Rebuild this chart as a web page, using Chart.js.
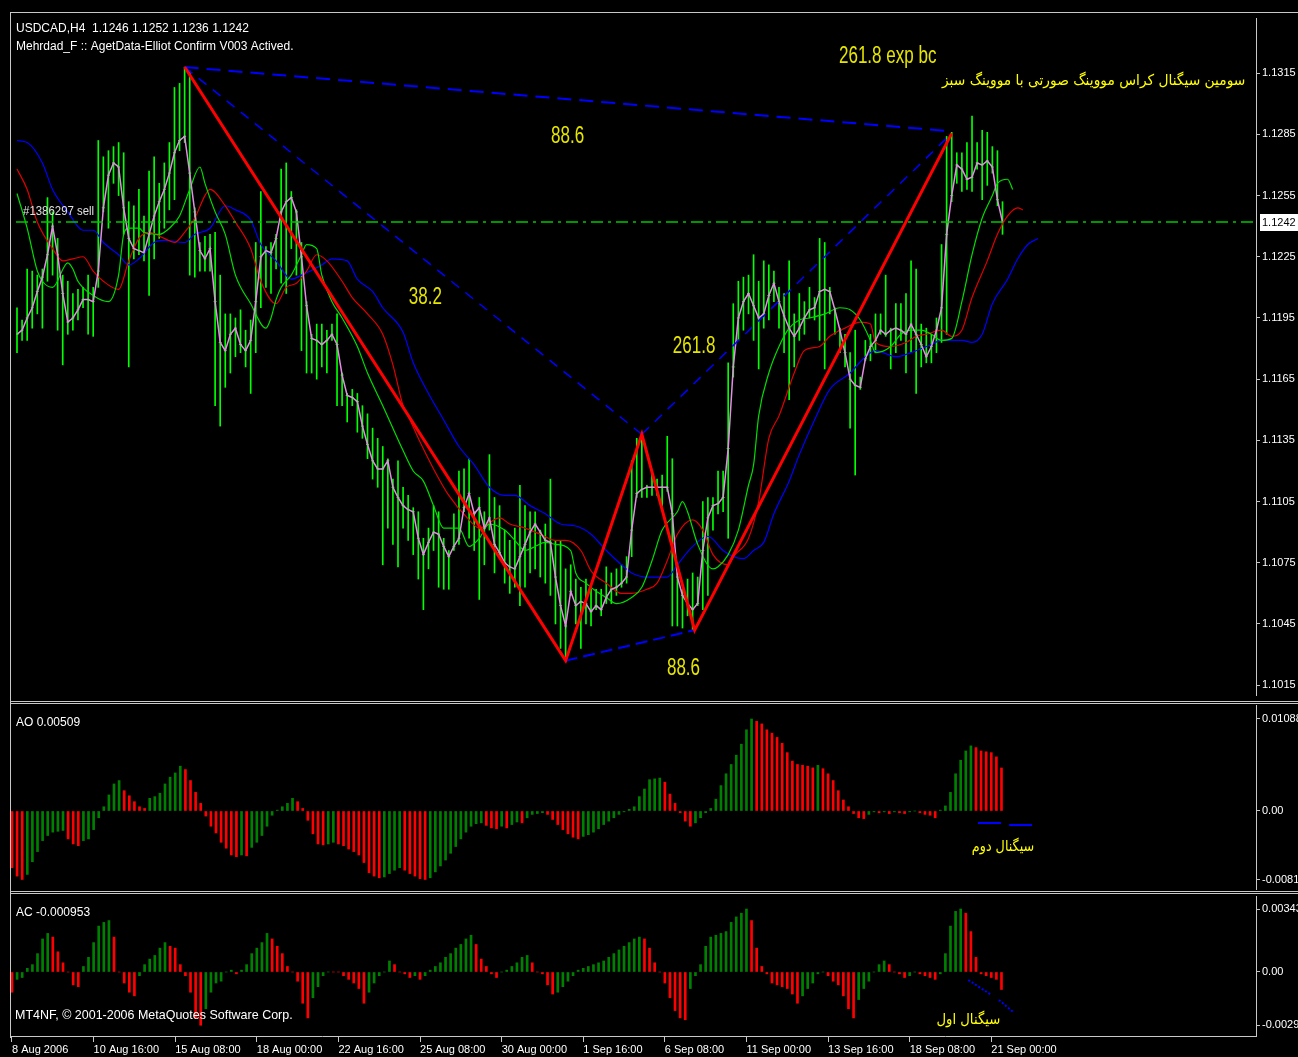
<!DOCTYPE html>
<html>
<head>
<meta charset="utf-8">
<title>USDCAD,H4</title>
<script src="https://cdn.jsdelivr.net/npm/chart.js@4.4.1/dist/chart.umd.min.js"></script>
<style>
  html,body{margin:0;padding:0;background:#000;}
  body{position:relative;width:1298px;height:1057px;overflow:hidden;}
  canvas{position:absolute;left:11px;}
  .ln{position:absolute;background:#c8c8c8;}
</style>
</head>
<body>
<div class="ln" style="left:10px;top:12px;width:1288px;height:1px"></div>
<div class="ln" style="left:10px;top:12px;width:1px;height:1026px"></div>
<div class="ln" style="left:10px;top:701px;width:1288px;height:1px"></div>
<div class="ln" style="left:10px;top:703px;width:1288px;height:1px"></div>
<div class="ln" style="left:10px;top:891px;width:1288px;height:1px"></div>
<div class="ln" style="left:10px;top:893px;width:1288px;height:1px"></div>
<canvas id="priceChart" width="1287" height="687" style="top:13px"></canvas>
<canvas id="aoChart" width="1287" height="185" style="top:705px"></canvas>
<canvas id="acChart" width="1287" height="161" style="top:896px"></canvas>
<script>
// H4 bars, one per index (0 = 8 Aug 2006)
const timeLabels = ['8 Aug 2006','10 Aug 16:00','15 Aug 08:00','18 Aug 00:00','22 Aug 16:00','25 Aug 08:00',
  '30 Aug 00:00','1 Sep 16:00','6 Sep 08:00','11 Sep 00:00','13 Sep 16:00','18 Sep 08:00','21 Sep 00:00'];
const priceTicks = [1.1315,1.1285,1.1255,1.1225,1.1195,1.1165,1.1135,1.1105,1.1075,1.1045,1.1015];
const aoTicks = [0.01088, 0, -0.0081];
const aoTickText = ['0.01088','0.00','-0.0081'];
const acTicks = [0.00343, 0, -0.0029];
const acTickText = ['0.00343','0.00','-0.0029'];

const highs = [
1.1200,1.1194,1.1219,1.1218,1.1216,1.1219,1.1254,1.1247,1.1234,1.1216,
1.1213,1.1207,1.1209,1.1210,1.1216,1.1210,1.1282,1.1274,1.1277,1.1279,
1.1281,1.1276,1.1252,1.1250,1.1258,1.1245,1.1267,1.1274,1.1261,1.1271,
1.1281,1.1308,1.1310,1.1318,1.1316,1.1249,1.1232,1.1235,1.1236,1.1237,
1.1216,1.1197,1.1197,1.1195,1.1199,1.1189,1.1194,1.1232,1.1257,1.1230,
1.1232,1.1236,1.1268,1.1271,1.1257,1.1248,1.1232,1.1203,1.1187,1.1192,
1.1192,1.1189,1.1192,1.1197,1.1168,1.1158,1.1160,1.1158,1.1152,1.1148,
1.1141,1.1136,1.1132,1.1126,1.1116,1.1125,1.1112,1.1108,1.1102,1.1100,
1.1087,1.1092,1.1103,1.1100,1.1087,1.1081,1.1099,1.1120,1.1121,1.1126,
1.1100,1.1107,1.1100,1.1128,1.1107,1.1103,1.1091,1.1086,1.1092,1.1113,
1.1103,1.1100,1.1100,1.1091,1.1094,1.1116,1.1086,1.1086,1.1072,1.1074,
1.1067,1.1063,1.1067,1.1062,1.1062,1.1062,1.1073,1.1070,1.1072,1.1074,
1.1078,1.1125,1.1136,1.1138,1.1113,1.1120,1.1116,1.1118,1.1137,1.1126,
1.1070,1.1062,1.1067,1.1070,1.1068,1.1105,1.1107,1.1107,1.1120,1.1120,
1.1173,1.1202,1.1213,1.1215,1.1216,1.1226,1.1213,1.1223,1.1221,1.1218,
1.1210,1.1207,1.1223,1.1197,1.1207,1.1203,1.1210,1.1205,1.1234,1.1232,
1.1210,1.1200,1.1190,1.1187,1.1178,1.1189,1.1166,1.1184,1.1187,1.1197,
1.1197,1.1216,1.1190,1.1202,1.1202,1.1207,1.1223,1.1219,1.1192,1.1190,
1.1187,1.1195,1.1231,1.1284,1.1286,1.1276,1.1276,1.1281,1.1294,1.1281,
1.1287,1.1286,1.1279,1.1277,1.1252];

const lows = [
1.1178,1.1184,1.1184,1.1190,1.1197,1.1190,1.1213,1.1216,1.1189,1.1172,
1.1187,1.1189,1.1194,1.1200,1.1187,1.1186,1.1210,1.1247,1.1239,1.1261,
1.1255,1.1236,1.1171,1.1224,1.1226,1.1223,1.1206,1.1224,1.1234,1.1239,
1.1248,1.1253,1.1277,1.1281,1.1216,1.1215,1.1218,1.1218,1.1218,1.1152,
1.1142,1.1161,1.1168,1.1176,1.1178,1.1171,1.1158,1.1178,1.1200,1.1210,
1.1207,1.1219,1.1212,1.1207,1.1229,1.1216,1.1179,1.1168,1.1168,1.1165,
1.1171,1.1168,1.1184,1.1152,1.1152,1.1144,1.1152,1.1139,1.1136,1.1126,
1.1116,1.1112,1.1074,1.1092,1.1084,1.1073,1.1092,1.1086,1.1079,1.1067,
1.1052,1.1072,1.1081,1.1063,1.1062,1.1062,1.1081,1.1084,1.1100,1.1087,
1.1081,1.1057,1.1074,1.1091,1.1070,1.1078,1.1065,1.1060,1.1063,1.1054,
1.1063,1.1070,1.1072,1.1068,1.1065,1.1059,1.1045,1.1033,1.1027,1.1059,
1.1045,1.1033,1.1045,1.1044,1.1052,1.1049,1.1055,1.1055,1.1059,1.1063,
1.1065,1.1078,1.1107,1.1107,1.1107,1.1108,1.1108,1.1103,1.1110,1.1044,
1.1044,1.1043,1.1049,1.1042,1.1054,1.1052,1.1059,1.1091,1.1099,1.1100,
1.1087,1.1166,1.1184,1.1189,1.1197,1.1184,1.1170,1.1190,1.1194,1.1203,
1.1190,1.1178,1.1155,1.1171,1.1184,1.1187,1.1195,1.1194,1.1184,1.1170,
1.1197,1.1187,1.1178,1.1171,1.1141,1.1118,1.1160,1.1174,1.1174,1.1178,
1.1187,1.1186,1.1170,1.1178,1.1184,1.1168,1.1178,1.1158,1.1171,1.1173,
1.1173,1.1178,1.1183,1.1187,1.1252,1.1261,1.1257,1.1258,1.1257,1.1268,
1.1253,1.1260,1.1266,1.1250,1.1236];

const closes = [
1.1187,1.1189,1.1195,1.1200,1.1208,1.1215,1.1226,1.1240,1.1226,1.1207,
1.1193,1.1195,1.1199,1.1204,1.1204,1.1203,1.1218,1.1249,1.1265,1.1271,
1.1269,1.1249,1.1234,1.1229,1.1228,1.1227,1.1236,1.1245,1.1252,1.1258,
1.1266,1.1276,1.1282,1.1284,1.1266,1.1247,1.1228,1.1224,1.1229,1.1203,
1.1183,1.1179,1.1187,1.1190,1.1182,1.1179,1.1184,1.1203,1.1225,1.1228,
1.1227,1.1234,1.1247,1.1252,1.1254,1.1247,1.1225,1.1201,1.1185,1.1184,
1.1182,1.1184,1.1187,1.1182,1.1167,1.1157,1.1156,1.1154,1.1142,1.1133,
1.1125,1.1121,1.1121,1.1125,1.1112,1.1107,1.1103,1.1101,1.1100,1.1087,
1.1079,1.1085,1.1090,1.1089,1.1083,1.1078,1.1083,1.1087,1.1102,1.1109,
1.1099,1.1102,1.1092,1.1097,1.1084,1.1080,1.1075,1.1073,1.1072,1.1078,
1.1084,1.1090,1.1094,1.1090,1.1086,1.1085,1.1068,1.1054,1.1044,1.1061,
1.1054,1.1056,1.1055,1.1051,1.1054,1.1052,1.1058,1.1062,1.1063,1.1065,
1.1068,1.1091,1.1109,1.1111,1.1112,1.1112,1.1112,1.1112,1.1112,1.1099,
1.1068,1.1059,1.1055,1.1052,1.1055,1.1081,1.1097,1.1103,1.1104,1.1107,
1.1131,1.1171,1.1195,1.1203,1.1207,1.1201,1.1195,1.1197,1.1206,1.1212,
1.1203,1.1196,1.1190,1.1186,1.1190,1.1195,1.1199,1.1200,1.1208,1.1209,
1.1208,1.1199,1.1189,1.1178,1.1165,1.1162,1.1161,1.1175,1.1181,1.1184,
1.1189,1.1187,1.1189,1.1190,1.1189,1.1187,1.1192,1.1187,1.1182,1.1176,
1.1181,1.1189,1.1200,1.1236,1.1255,1.1270,1.1268,1.1263,1.1264,1.1271,
1.1270,1.1272,1.1269,1.1253,1.1242];

// alligator lines as [bar index, price]
const lipsLine = [[0,1.1256],[2,1.1239],[4,1.1218],[5,1.1213],[7,1.1210],[10,1.1222],[11,1.1219],[12,1.1213],
  [15,1.1206],[18,1.1203],[20,1.1216],[21,1.1236],[22,1.1239],[24,1.1239],[25,1.1237],[28,1.1236],[30,1.1239],
  [32,1.1245],[34,1.1258],[36,1.1269],[37,1.1261],[39,1.1247],[41,1.1236],[43,1.1216],[46,1.1202],[49,1.1190],
  [50,1.1195],[51,1.1204],[52,1.1210],[54,1.1216],[56,1.1226],[57,1.1231],[59,1.1229],[60,1.1216],[62,1.1203],
  [64,1.1195],[67,1.1181],[69,1.1168],[72,1.1152],[76,1.1130],[78,1.1120],[80,1.1115],[82,1.1103],[84,1.1092],
  [87,1.1092],[89,1.1083],[91,1.1087],[93,1.1094],[96,1.1091],[98,1.1086],[100,1.1081],[102,1.1083],[104,1.1085],
  [106,1.1084],[109,1.1081],[110,1.1070],[112,1.1065],[114,1.1061],[116,1.1058],[118,1.1055],[121,1.1058],
  [123,1.1063],[125,1.1076],[127,1.1091],[130,1.1100],[131,1.1105],[132,1.1100],[134,1.1084],[137,1.1072],
  [138,1.1073],[140,1.1079],[142,1.1091],[144,1.1113],[145,1.1123],[146,1.1147],[148,1.1168],[150,1.1181],
  [152,1.1190],[154,1.1194],[156,1.1195],[159,1.1197],[162,1.1200],[164,1.1199],[166,1.1194],[168,1.1184],
  [169,1.1178],[172,1.1181],[174,1.1187],[176,1.1189],[178,1.1189],[180,1.1187],[182,1.1184],[184,1.1185],
  [186,1.1203],[188,1.1226],[190,1.1244],[192,1.1255],[193,1.1261],[195,1.1263],[196,1.1258]];

const teethLine = [[0,1.1268],[2,1.1258],[4,1.1242],[7,1.1229],[9,1.1223],[11,1.1224],[13,1.1225],[15,1.1218],
  [17,1.1213],[20,1.1209],[22,1.1223],[24,1.1234],[26,1.1237],[29,1.1234],[31,1.1232],[33,1.1237],[35,1.1244],
  [37,1.1255],[38,1.1258],[41,1.1250],[43,1.1242],[46,1.1229],[48,1.1213],[51,1.1202],[53,1.1210],[55,1.1212],
  [57,1.1218],[59,1.1226],[61,1.1223],[64,1.1213],[66,1.1205],[69,1.1197],[72,1.1187],[74,1.1172],[76,1.1152],
  [77,1.1147],[79,1.1136],[82,1.1121],[85,1.1108],[89,1.1096],[91,1.1092],[95,1.1097],[97,1.1094],[100,1.1092],
  [103,1.1089],[106,1.1086],[108,1.1086],[111,1.1081],[113,1.1071],[116,1.1065],[119,1.1060],[121,1.1060],
  [124,1.1062],[126,1.1065],[128,1.1076],[130,1.1089],[133,1.1096],[135,1.1091],[137,1.1079],[140,1.1074],
  [141,1.1078],[144,1.1087],[146,1.1105],[148,1.1136],[150,1.1147],[153,1.1168],[155,1.1179],[158,1.1181],
  [160,1.1186],[163,1.1190],[166,1.1193],[168,1.1192],[169,1.1183],[172,1.1181],[175,1.1183],[177,1.1186],
  [179,1.1187],[182,1.1189],[184,1.1186],[186,1.1189],[188,1.1205],[191,1.1223],[193,1.1236],[195,1.1245],
  [197,1.1249],[198,1.1248]];

const jawLine = [[0,1.1282],[2,1.1281],[5,1.1271],[7,1.1258],[10,1.1247],[13,1.1238],[15,1.1238],[17,1.1232],
  [20,1.1226],[22,1.1221],[24,1.1224],[27,1.1232],[29,1.1233],[33,1.1232],[35,1.1236],[38,1.1239],[41,1.1250],
  [43,1.1248],[46,1.1243],[48,1.1231],[51,1.1223],[54,1.1214],[56,1.1216],[60,1.1221],[62,1.1224],[65,1.1223],
  [67,1.1214],[70,1.1208],[72,1.1200],[76,1.1188],[78,1.1173],[81,1.1158],[84,1.1145],[87,1.1132],[90,1.1123],
  [93,1.1112],[96,1.1108],[98,1.1108],[101,1.1103],[104,1.1099],[107,1.1094],[110,1.1093],[113,1.1089],
  [116,1.1081],[119,1.1074],[121,1.1070],[124,1.1068],[128,1.1068],[130,1.1074],[133,1.1083],[136,1.1088],
  [139,1.1081],[141,1.1078],[143,1.1077],[145,1.1081],[147,1.1085],[149,1.1099],[152,1.1115],[154,1.1128],
  [157,1.1145],[160,1.1160],[164,1.1168],[167,1.1176],[169,1.1179],[173,1.1176],[176,1.1178],[180,1.1182],
  [182,1.1184],[186,1.1184],[188,1.1183],[190,1.1187],[192,1.1202],[195,1.1214],[197,1.1224],[199,1.1231],
  [201,1.1234]];

// Elliott zigzag and the fibo guide lines
const zigzag = [[33,1.1318],[108,1.1027],[123,1.1138],[133.4,1.1042],[184,1.12855]];
const guideTop = [[33,1.1318],[184,1.12865]];
const guideLeft = [[33,1.1318],[123,1.1138]];
const guideRight = [[123,1.1138],[184,1.12855]];
const guideBottom = [[108,1.1027],[133.4,1.1042]];
const orderLevel = 1.1242;

const aoValues = [
-0.0067,-0.0077,-0.0081,-0.0075,-0.0060,-0.0048,-0.0035,-0.0029,-0.0025,-0.0024,
-0.0023,-0.0033,-0.0039,-0.0041,-0.0035,-0.0033,-0.0022,-0.0008,0.0005,0.0019,
0.0032,0.0036,0.0024,0.0018,0.0011,0.0005,0.0003,0.0015,0.0017,0.0021,
0.0032,0.0040,0.0045,0.0053,0.0049,0.0036,0.0022,0.0009,-0.0006,-0.0018,
-0.0026,-0.0037,-0.0044,-0.0052,-0.0054,-0.0052,-0.0053,-0.0043,-0.0037,-0.0029,
-0.0018,-0.0005,0.0001,0.0005,0.0009,0.0015,0.0011,0.0003,-0.0011,-0.0027,
-0.0039,-0.0040,-0.0039,-0.0037,-0.0039,-0.0041,-0.0045,-0.0048,-0.0052,-0.0061,
-0.0073,-0.0077,-0.0079,-0.0078,-0.0074,-0.0070,-0.0067,-0.0070,-0.0074,-0.0077,
-0.0080,-0.0081,-0.0079,-0.0072,-0.0065,-0.0058,-0.0050,-0.0042,-0.0033,-0.0025,
-0.0018,-0.0015,-0.0014,-0.0017,-0.0020,-0.0021,-0.0018,-0.0020,-0.0016,-0.0013,
-0.0014,-0.0008,-0.0004,-0.0003,-0.0002,-0.0004,-0.0010,-0.0016,-0.0022,-0.0027,
-0.0031,-0.0033,-0.0030,-0.0028,-0.0025,-0.0021,-0.0016,-0.0012,-0.0008,-0.0004,
-0.0001,0.0002,0.0005,0.0017,0.0026,0.0037,0.0038,0.0039,0.0034,0.0020,
0.0009,-0.0002,-0.0012,-0.0018,-0.0014,-0.0008,-0.0002,0.0003,0.0014,0.0030,
0.0044,0.0055,0.0066,0.0079,0.0096,0.01088,0.0106,0.0103,0.0096,0.0092,
0.0087,0.0080,0.0069,0.0059,0.0055,0.0054,0.0053,0.0051,0.0054,0.0050,
0.0044,0.0036,0.0024,0.0013,0.0005,-0.0003,-0.0008,-0.0009,-0.0004,-0.0001,
-0.0002,-0.0001,-0.0003,-0.0001,-0.0002,-0.0003,-0.0001,0.0000,-0.0002,-0.0004,
-0.0005,-0.0008,0.0001,0.0006,0.0022,0.0044,0.0060,0.0071,0.0077,0.0075,
0.0071,0.0070,0.0069,0.0064,0.00509];

const acValues = [
-0.0011,-0.0004,-0.0003,0.0002,0.0004,0.0010,0.0018,0.0021,0.0019,0.0011,
0.0005,0.0000,-0.0007,-0.0008,0.0003,0.0008,0.0016,0.0025,0.0027,0.0028,
0.0019,0.0000,-0.0006,-0.0011,-0.0013,-0.0002,0.0004,0.0007,0.0009,0.0013,
0.0016,0.0014,0.0013,0.0004,-0.0002,-0.0011,-0.0025,-0.0029,-0.0020,-0.0011,
-0.0006,-0.0005,0.0000,0.0001,-0.0001,0.0001,0.0004,0.0010,0.0013,0.0016,
0.0021,0.0018,0.0014,0.0010,0.0003,0.0000,-0.0005,-0.0017,-0.0025,-0.0014,
-0.0008,-0.0002,0.0000,0.0000,0.0000,-0.0002,-0.0004,-0.0006,-0.0009,-0.0017,
-0.0011,-0.0006,-0.0002,0.0000,0.0006,0.0004,0.0000,-0.0001,-0.0003,-0.0002,
-0.0004,-0.0002,0.0001,0.0003,0.0005,0.0008,0.0010,0.0013,0.0015,0.0018,
0.0020,0.0015,0.0007,0.0003,-0.0001,-0.0003,0.0000,0.0001,0.0003,0.0005,
0.0008,0.0009,0.0005,0.0000,-0.0001,-0.0007,-0.0012,-0.0011,-0.0008,-0.0005,
-0.0002,0.0001,0.0002,0.0003,0.0004,0.0005,0.0006,0.0008,0.0010,0.0012,
0.0014,0.0016,0.0018,0.0019,0.0018,0.0013,0.0005,0.0000,-0.0006,-0.0014,
-0.0021,-0.0025,-0.0026,-0.0009,-0.0002,0.0004,0.0014,0.0019,0.0020,0.0021,
0.0022,0.0027,0.0030,0.0032,0.00343,0.0028,0.0013,0.0003,-0.0001,-0.0006,
-0.0007,-0.0008,-0.0009,-0.0012,-0.0017,-0.0013,-0.0009,-0.0006,-0.0001,0.0000,
-0.0002,-0.0005,-0.0007,-0.0013,-0.0020,-0.0025,-0.0015,-0.0009,-0.0005,0.0000,
0.0004,0.0006,0.0004,0.0000,-0.0001,-0.0003,-0.0002,0.0000,-0.0001,-0.0002,
-0.0003,-0.0004,-0.0001,0.0010,0.0025,0.0033,0.00343,0.0032,0.0022,0.0008,
-0.0001,-0.0002,-0.0003,-0.0004,-0.000953];

// hand drawn signal marks in the oscillator windows
const aoSignal1 = [[189.4,-0.00142],[193.9,-0.00142]];
const aoSignal2 = [[195.5,-0.00166],[200,-0.00166]];
const acSignal1 = [[187.5,-0.000436],[192,-0.00125]];
const acSignal2 = [[193.5,-0.00152],[196.3,-0.00218]];

const X_MIN = -0.196, X_MAX = 243.9;
const PLAIN = '"Liberation Sans", Arial, sans-serif';
const FARSI = '"DejaVu Sans", sans-serif';
const FIB_FONT = '23px ' + PLAIN;

Chart.defaults.font.family = PLAIN;
Chart.defaults.font.size = 11;
Chart.defaults.color = '#ffffff';

const pts = arr => arr.map(([x, y]) => ({x, y}));

// free text on the windows; sx squeezes glyphs to mimic the terminal's narrow fonts
const notesPlugin = {
  id: 'notes',
  afterDraw(chart, args, opts) {
    const {ctx, chartArea, scales} = chart;
    (opts.items || []).forEach(n => {
      const px = n.px ? n.px[0] : scales.x.getPixelForValue(n.at[0]);
      const py = n.px ? n.px[1] : scales.y.getPixelForValue(n.at[1]);
      ctx.save();
      ctx.font = n.font || ('12px ' + PLAIN);
      ctx.fillStyle = n.color || '#ffffff';
      ctx.textAlign = n.align || 'center';
      ctx.textBaseline = 'middle';
      if (n.rtl) ctx.direction = 'rtl';
      ctx.translate(px, py);
      ctx.scale(n.sx || 1, 1);
      ctx.fillText(n.text, 0, 0);
      ctx.restore();
    });
    if (opts.mark) {
      const y = scales.y.getPixelForValue(opts.mark.value);
      const x0 = chartArea.right + 4;
      ctx.save();
      ctx.fillStyle = '#ffffff';
      ctx.fillRect(x0, Math.round(y) - 8, chart.width - x0, 17);
      ctx.fillStyle = '#000000';
      ctx.font = '11px ' + PLAIN;
      ctx.textAlign = 'left';
      ctx.textBaseline = 'middle';
      ctx.fillText(opts.mark.text, x0 + 2, y + 0.5);
      ctx.restore();
    }
  }
};

function xScale(show) {
  const s = {
    type: 'linear', min: X_MIN, max: X_MAX, offset: false, display: show,
    grid: {drawOnChartArea: false, drawTicks: true, tickLength: 6, color: '#c8c8c8', offset: false},
    border: {display: true, color: '#c8c8c8'},
    afterBuildTicks: sc => { sc.ticks = timeLabels.map((t, k) => ({value: k * 16})); },
    ticks: {align: 'start', autoSkip: false, maxRotation: 0, padding: 1, color: '#ffffff',
      callback: v => timeLabels[Math.round(v / 16)]}
  };
  if (show) s.afterFit = sc => { sc.height = 21; sc.paddingLeft = 0; sc.paddingRight = 0; };
  return s;
}

function yScale(min, max, vals, text) {
  return {
    type: 'linear', position: 'right', min, max,
    grid: {drawOnChartArea: false, drawTicks: true, tickLength: 4, color: '#c8c8c8'},
    border: {display: true, color: '#c8c8c8'},
    afterBuildTicks: sc => { sc.ticks = vals.map(v => ({value: v})); },
    afterFit: sc => { sc.width = 42; sc.paddingTop = 0; sc.paddingBottom = 0; },
    ticks: {padding: 2, color: '#ffffff', callback: (v, i) => text[i]}
  };
}

const baseOptions = {
  responsive: false, animation: false, devicePixelRatio: 1, events: [],
  layout: {padding: 0}
};

function line(data, color, width, extra) {
  return Object.assign({type: 'line', data, borderColor: color, borderWidth: width,
    pointRadius: 0, fill: false, tension: 0}, extra || {});
}

// ---- price window
new Chart(document.getElementById('priceChart'), {
  type: 'line',
  data: {
    datasets: [
      line(pts(zigzag), '#ff0000', 3, {order: 1}),
      line(pts(guideTop), '#0000ff', 2, {borderDash: [14, 8], order: 2}),
      line(pts(guideLeft), '#0000ff', 1.5, {borderDash: [10, 8], order: 2}),
      line(pts(guideRight), '#0000ff', 1.5, {borderDash: [10, 8], order: 2}),
      line(pts(guideBottom), '#0000ff', 2, {borderDash: [12, 6], order: 2}),
      line([{x: X_MIN, y: orderLevel}, {x: X_MAX, y: orderLevel}], '#00c800', 1.5,
        {borderDash: [12, 5, 3, 5], order: 3}),
      line(closes.map((c, i) => ({x: i, y: c})), '#e38ee3', 1.5, {order: 4}),
      line(pts(lipsLine), '#00dd00', 1.2, {cubicInterpolationMode: 'monotone', order: 5}),
      line(pts(teethLine), '#e00000', 1.2, {cubicInterpolationMode: 'monotone', order: 6}),
      line(pts(jawLine), '#0000ff', 1.2, {cubicInterpolationMode: 'monotone', order: 7}),
      {type: 'line', data: closes.map((c, i) => ({x: i, y: c})), showLine: false,
        pointStyle: 'line', pointRadius: 1.5, pointBorderWidth: 1, pointBorderColor: '#00ff00', order: 8},
      {type: 'bar', data: highs.map((h, i) => ({x: i, y: [lows[i], h]})), backgroundColor: '#00ff00',
        barThickness: 1, grouped: false, order: 9}
    ]
  },
  options: Object.assign({}, baseOptions, {
    scales: {x: xScale(false), y: yScale(1.101017, 1.134205, priceTicks, priceTicks.map(v => v.toFixed(4)))},
    plugins: {
      legend: {display: false}, tooltip: {enabled: false},
      notes: {
        mark: {value: orderLevel, text: '1.1242'},
        items: [
          {text: 'USDCAD,H4  1.1246 1.1252 1.1236 1.1242', px: [5, 16], align: 'left'},
          {text: 'Mehrdad_F :: AgetData-Elliot Confirm V003 Actived.', px: [5, 34], align: 'left'},
          {text: '#1386297 sell', at: [1.2, 1.12469], align: 'left', color: '#e0e0e0', sx: 0.95},
          {text: '261.8 exp bc', at: [171.4, 1.13232], font: FIB_FONT, sx: 0.74, color: '#e6e600'},
          {text: 'سومین سیگنال کراس مووینگ صورتی با مووینگ سبز', at: [241.8, 1.13111], align: 'right',
            rtl: true, font: '15px ' + FARSI, sx: 0.92, color: '#ffff00'},
          {text: '88.6', at: [108.4, 1.12841], font: FIB_FONT, sx: 0.74, color: '#e6e600'},
          {text: '38.2', at: [80.4, 1.12049], font: FIB_FONT, sx: 0.74, color: '#e6e600'},
          {text: '261.8', at: [133.3, 1.11807], font: FIB_FONT, sx: 0.74, color: '#e6e600'},
          {text: '88.6', at: [131.2, 1.10232], font: FIB_FONT, sx: 0.74, color: '#e6e600'}
        ]
      }
    }
  }),
  plugins: [notesPlugin]
});

const upDown = vals => vals.map((v, i) => (i > 0 && v > vals[i - 1]) ? '#008000' : '#ff0000');

// ---- Awesome Oscillator
new Chart(document.getElementById('aoChart'), {
  type: 'line',
  data: {
    datasets: [
      line(pts(aoSignal1), '#0000ff', 2, {order: 1}),
      line(pts(aoSignal2), '#0000ff', 2, {order: 1}),
      {type: 'bar', data: aoValues.map((v, i) => ({x: i, y: v})), backgroundColor: upDown(aoValues),
        barThickness: 2, grouped: false, order: 2}
    ]
  },
  options: Object.assign({}, baseOptions, {
    scales: {x: xScale(false), y: yScale(-0.009343, 0.012535, aoTicks, aoTickText)},
    plugins: {
      legend: {display: false}, tooltip: {enabled: false},
      notes: {items: [
        {text: 'AO 0.00509', px: [5, 18], align: 'left'},
        {text: 'سیگنال دوم', at: [194.3, -0.00426], rtl: true, font: '15px ' + FARSI, sx: 0.85, color: '#ffff00'}
      ]}
    }
  }),
  plugins: [notesPlugin]
});

// ---- Accelerator Oscillator
new Chart(document.getElementById('acChart'), {
  type: 'line',
  data: {
    datasets: [
      line(pts(acSignal1), '#0000ff', 2, {borderDash: [2, 2], order: 1}),
      line(pts(acSignal2), '#0000ff', 2, {borderDash: [2, 2], order: 1}),
      {type: 'bar', data: acValues.map((v, i) => ({x: i, y: v})), backgroundColor: upDown(acValues),
        barThickness: 2, grouped: false, order: 2}
    ]
  },
  options: Object.assign({}, baseOptions, {
    scales: {x: xScale(true), y: yScale(-0.003485, 0.004138, acTicks, acTickText)},
    plugins: {
      legend: {display: false}, tooltip: {enabled: false},
      notes: {items: [
        {text: 'AC -0.000953', px: [5, 17], align: 'left'},
        {text: 'MT4NF, © 2001-2006 MetaQuotes Software Corp.', px: [4, 119], align: 'left',
          font: '13px ' + PLAIN, sx: 0.96},
        {text: 'سیگنال اول', at: [187.5, -0.00261], rtl: true, font: '15px ' + FARSI, sx: 0.88, color: '#ffff00'}
      ]}
    }
  }),
  plugins: [notesPlugin]
});
</script>
</body>
</html>
